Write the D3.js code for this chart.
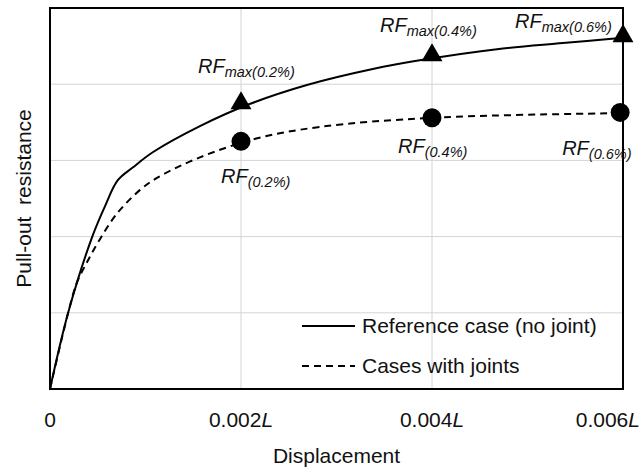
<!DOCTYPE html>
<html>
<head>
<meta charset="utf-8">
<script src="https://cdn.jsdelivr.net/npm/d3@7"></script>
<style>
  body { margin: 0; background: #fff; }
  svg { display: block; font-family: "Liberation Sans", Arial, sans-serif; }
</style>
</head>
<body>
<div id="chart"></div>
<script>
// displacement in units of 0.001L, resistance in arbitrary grid units
var refX  = [0, 0.19, 0.44, 0.58, 0.71, 0.87, 1.08, 1.57, 2.09, 2.69, 3.38, 3.95, 4.68, 5.37, 6.00]
var refY  = [0, 1.00, 1.99, 2.41, 2.74, 2.91, 3.11, 3.45, 3.74, 3.99, 4.20, 4.33, 4.46, 4.54, 4.61]
var jntX  = [0, 0.19, 0.28, 0.39, 0.52, 0.70, 0.94, 1.12, 1.57, 2.17, 2.83, 4.01, 5.97]
var jntY  = [0, 1.00, 1.39, 1.67, 1.96, 2.30, 2.61, 2.77, 3.04, 3.29, 3.44, 3.56, 3.62]

var maxX = [2, 4, 6]
var maxY = [3.75, 4.38, 4.63]
var maxSub = ['max(0.2%)', 'max(0.4%)', 'max(0.6%)']

var rfX = [2, 4, 5.97]
var rfY = [3.25, 3.56, 3.63]
var rfSub = ['(0.2%)', '(0.4%)', '(0.6%)']

var xTicks = [0, 2, 4, 6]
var xTickLabels = ['0', '0.002', '0.004', '0.006']
var yGrid = [1, 2, 3, 4]
var legendLabels = ['Reference case (no joint)', 'Cases with joints']

var W = 641, H = 473
var margin = {left: 50, right: 18, top: 8, bottom: 84}

var svg = d3.select('#chart').append('svg').attr('width', W).attr('height', H)

var x = d3.scaleLinear().domain([0, 6]).range([margin.left, W - margin.right])
var y = d3.scaleLinear().domain([0, 5]).range([H - margin.bottom, margin.top])

// grid
svg.append('g').selectAll('line').data(xTicks.slice(1, -1)).join('line')
  .attr('x1', d => x(d)).attr('x2', d => x(d))
  .attr('y1', y(0)).attr('y2', y(5))
  .attr('stroke', '#d4d4d4').attr('stroke-width', 1)
svg.append('g').selectAll('line').data(yGrid).join('line')
  .attr('x1', x(0)).attr('x2', x(6))
  .attr('y1', d => y(d)).attr('y2', d => y(d))
  .attr('stroke', '#d4d4d4').attr('stroke-width', 1)

// curves
var line = d3.line().x(d => x(d[0])).y(d => y(d[1])).curve(d3.curveCatmullRom.alpha(0.5))

svg.append('path')
  .attr('d', line(d3.zip(jntX, jntY)))
  .attr('fill', 'none').attr('stroke', '#000').attr('stroke-width', 2)
  .attr('stroke-dasharray', '7,5')

svg.append('path')
  .attr('d', line(d3.zip(refX, refY)))
  .attr('fill', 'none').attr('stroke', '#000').attr('stroke-width', 2)

// frame
svg.append('rect')
  .attr('x', x(0)).attr('y', y(5))
  .attr('width', x(6) - x(0)).attr('height', y(0) - y(5))
  .attr('fill', 'none').attr('stroke', '#000').attr('stroke-width', 2)

// markers
var tri = d3.symbol().type(d3.symbolTriangle).size(190)
svg.append('g').selectAll('path').data(d3.zip(maxX, maxY)).join('path')
  .attr('d', tri)
  .attr('transform', d => `translate(${x(d[0])},${y(d[1])})`)
  .attr('fill', '#000')

svg.append('g').selectAll('circle').data(d3.zip(rfX, rfY)).join('circle')
  .attr('cx', d => x(d[0])).attr('cy', d => y(d[1]))
  .attr('r', 9.5).attr('fill', '#000')

// annotation labels
var maxOff = [[-43, -30], [-52, -23], [-108, -8]]
var rfOff = [[-20, 42], [-34, 35], [-58, 43]]

function rfLabel(px, py, sub){
  var t = svg.append('text').attr('x', px).attr('y', py)
    .attr('font-style', 'italic').attr('fill', '#111')
  t.append('tspan').text('RF').attr('font-size', 20)
  t.append('tspan').text(sub).attr('font-size', 14.5).attr('dy', 4)
}
maxX.forEach((d, i) => rfLabel(x(d) + maxOff[i][0], y(maxY[i]) + maxOff[i][1], maxSub[i]))
rfX.forEach((d, i) => rfLabel(x(d) + rfOff[i][0], y(rfY[i]) + rfOff[i][1], rfSub[i]))

// x tick labels
xTicks.forEach((d, i) => {
  var t = svg.append('text').attr('x', x(d)).attr('y', 427)
    .attr('text-anchor', 'middle').attr('font-size', 21).attr('fill', '#111')
  t.append('tspan').text(xTickLabels[i])
  if (d > 0) t.append('tspan').text('L').attr('font-style', 'italic')
  var w = t.node().getComputedTextLength()
  if (x(d) + w/2 > W - 1) t.attr('text-anchor', 'end').attr('x', W - 1)
})

svg.append('text').text('Displacement')
  .attr('x', (x(0) + x(6))/2).attr('y', 463)
  .attr('text-anchor', 'middle').attr('font-size', 21).attr('fill', '#111')

svg.append('text').text('Pull-out\u00a0 resistance')
  .attr('transform', `translate(31,${(y(0) + y(5))/2}) rotate(-90)`)
  .attr('text-anchor', 'middle').attr('font-size', 21).attr('fill', '#111')

// legend
var lg = svg.append('g').attr('transform', 'translate(302,326)')
legendLabels.forEach((d, i) => {
  lg.append('line')
    .attr('x1', 0).attr('x2', 53).attr('y1', i*40).attr('y2', i*40)
    .attr('stroke', '#000').attr('stroke-width', 2)
    .attr('stroke-dasharray', i ? '7,5' : null)
  lg.append('text').text(d)
    .attr('x', 60).attr('y', i*40 + 7)
    .attr('font-size', 21).attr('fill', '#111')
})
</script>
</body>
</html>
